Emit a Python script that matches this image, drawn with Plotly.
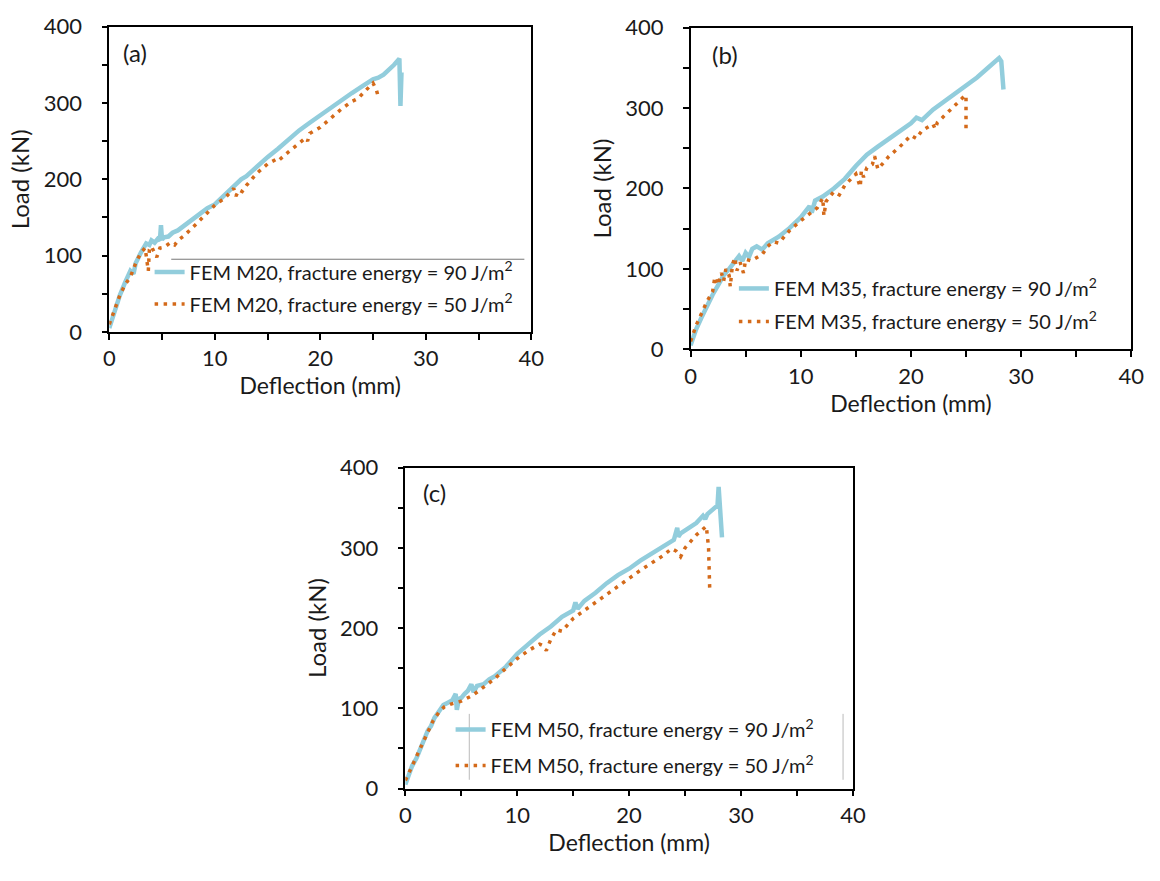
import plotly.graph_objects as go

# ---------------- data ----------------
# Panel (a) M20
a90_x = [0, 0.5, 1.0, 1.5, 2.0, 2.3, 2.5, 3.0, 3.5, 3.8, 4.0, 4.3, 4.6, 4.8, 4.9, 5.0, 5.2, 5.6, 6.0, 6.5, 7.0, 8.0, 9.0, 9.3, 10.0, 11.0, 12.0, 12.5, 13.0, 14.0, 15.0, 16.0, 17.0, 18.0, 19.0, 19.2, 20.0, 21.0, 22.0, 23.0, 24.0, 25.0, 25.5, 26.0, 27.0, 27.5, 27.6, 27.7]
a90_y = [5, 28, 48, 65, 80, 76, 90, 104, 116, 114, 120, 117, 122, 120, 140, 121, 124, 125, 130, 133, 138, 148, 158, 162, 167, 180, 193, 200, 204, 217, 229, 240, 252, 264, 274, 276, 284, 294, 304, 313, 322, 331, 333, 337, 350, 358, 296, 340]
a50_x = [0, 0.5, 1.0, 1.5, 2.0, 2.5, 3.0, 3.4, 3.6, 3.7, 3.8, 4.0, 4.3, 4.5, 4.8, 5.2, 5.8, 6.2, 6.6, 7.0, 8.0, 9.0, 10.0, 11.0, 11.8, 12.0, 12.3, 12.6, 13.0, 14.0, 15.0, 15.8, 16.0, 17.0, 18.0, 18.6, 18.8, 19.0, 20.0, 21.0, 22.0, 23.0, 23.6, 24.0, 25.0, 25.3, 25.5]
a50_y = [10, 30, 48, 62, 72, 90, 104, 110, 92, 80, 108, 112, 103, 98, 110, 111, 117, 114, 121, 125, 138, 152, 166, 176, 188, 178, 186, 184, 192, 208, 220, 226, 224, 236, 248, 254, 250, 260, 268, 280, 292, 302, 306, 312, 326, 318, 308]

# Panel (b) M35
b90_x = [0, 0.5, 1.0, 1.5, 2.0, 2.5, 3.0, 3.5, 4.0, 4.4, 4.7, 5.0, 5.3, 5.6, 6.0, 6.5, 7.0, 8.0, 9.0, 10.0, 10.8, 11.0, 11.3, 12.0, 13.0, 14.0, 15.0, 16.0, 17.0, 18.0, 19.0, 20.0, 20.5, 21.0, 22.0, 23.0, 24.0, 25.0, 26.0, 27.0, 27.5, 28.0, 28.2, 28.4]
b90_y = [5, 25, 40, 55, 68, 80, 92, 100, 108, 116, 110, 120, 115, 125, 128, 124, 132, 140, 151, 164, 178, 170, 185, 190, 200, 212, 228, 242, 252, 262, 272, 281, 288, 285, 298, 308, 318, 328, 338, 350, 356, 362, 358, 323]
b50_x = [0, 0.5, 1.0, 1.5, 2.0, 2.2, 2.5, 2.8, 3.0, 3.2, 3.5, 3.6, 3.8, 4.0, 4.2, 4.5, 4.8, 5.0, 5.5, 6.0, 6.5, 7.0, 7.5, 8.0, 8.5, 9.0, 10.0, 11.0, 11.5, 12.0, 12.1, 12.3, 13.0, 13.5, 14.0, 15.0, 15.4, 15.5, 15.7, 16.0, 16.5, 16.7, 17.0, 18.0, 19.0, 20.0, 20.5, 21.0, 22.0, 22.2, 22.4, 23.0, 24.0, 24.8, 25.0, 25.0]
b50_y = [10, 30, 45, 60, 72, 90, 80, 95, 85, 100, 92, 78, 105, 114, 98, 108, 95, 112, 110, 114, 118, 128, 134, 132, 140, 148, 160, 170, 176, 188, 166, 184, 196, 192, 204, 218, 202, 222, 214, 226, 230, 240, 224, 240, 252, 266, 262, 272, 280, 274, 282, 290, 304, 314, 316, 268]

# Panel (c) M50
c90_x = [0, 0.3, 0.6, 1.0, 1.5, 2.0, 2.3, 2.6, 3.0, 3.4, 3.8, 4.2, 4.5, 4.6, 4.8, 5.0, 5.3, 5.6, 5.9, 6.1, 6.4, 7.0, 7.5, 8.0, 9.0, 10.0, 11.0, 12.0, 13.0, 14.0, 15.0, 15.2, 15.4, 16.0, 17.0, 18.0, 19.0, 20.0, 21.0, 22.0, 23.0, 24.0, 24.3, 24.4, 24.6, 25.0, 26.0, 26.6, 26.8, 27.0, 27.5, 27.9, 28.0, 28.1, 28.3]
c90_y = [5, 18, 28, 38, 55, 72, 78, 88, 96, 104, 107, 110, 118, 98, 112, 113, 118, 122, 130, 120, 128, 130, 136, 140, 152, 168, 180, 192, 202, 214, 222, 232, 224, 234, 244, 256, 266, 274, 284, 293, 302, 310, 325, 314, 318, 322, 331, 340, 336, 342, 348, 353, 376, 350, 313]
c50_x = [0, 0.5, 1.0, 1.5, 2.0, 2.5, 3.0, 3.5, 4.0, 4.5, 5.0, 6.0, 7.0, 8.0, 9.0, 10.0, 11.0, 12.0, 12.3, 12.6, 13.0, 13.5, 14.0, 15.0, 16.0, 17.0, 18.0, 19.0, 20.0, 21.0, 22.0, 23.0, 23.8, 24.2, 24.6, 25.0, 25.5, 26.0, 26.5, 26.9, 27.1, 27.2]
c50_y = [10, 25, 40, 55, 70, 85, 95, 102, 105, 107, 109, 116, 126, 137, 150, 162, 172, 180, 178, 172, 186, 198, 196, 212, 222, 232, 243, 253, 262, 272, 281, 290, 299, 296, 289, 300, 308, 316, 322, 327, 300, 250]

labels_a = ["FEM M20, fracture energy = 90 J/m<sup>2</sup>", "FEM M20, fracture energy = 50 J/m<sup>2</sup>"]
labels_b = ["FEM M35, fracture energy = 90 J/m<sup>2</sup>", "FEM M35, fracture energy = 50 J/m<sup>2</sup>"]
labels_c = ["FEM M50, fracture energy = 90 J/m<sup>2</sup>", "FEM M50, fracture energy = 50 J/m<sup>2</sup>"]
panel_tags = ["(a)", "(b)", "(c)"]

# ---------------- style ----------------
W, H = 1160, 881
FONT = "Lato"
TXT = "#1a1a1a"
BLUE = "#92CDDC"
ORANGE = "#D46A1A"

def px(x):
    return x / W

def py(y):
    return 1 - y / H

fig = go.Figure()

panels = [
    dict(xa="x", ya="y", leg="legend", data=[(a90_x, a90_y), (a50_x, a50_y)], names=labels_a),
    dict(xa="x2", ya="y2", leg="legend2", data=[(b90_x, b90_y), (b50_x, b50_y)], names=labels_b),
    dict(xa="x3", ya="y3", leg="legend3", data=[(c90_x, c90_y), (c50_x, c50_y)], names=labels_c),
]

for p in panels:
    (x1, y1), (x2, y2) = p["data"]
    fig.add_trace(go.Scatter(x=x1, y=y1, mode="lines", name=p["names"][0],
                             xaxis=p["xa"], yaxis=p["ya"], legend=p["leg"],
                             legendgroup=p["leg"] + "g1",
                             line=dict(color=BLUE, width=4.5)))
    fig.add_trace(go.Scatter(x=x2, y=y2, mode="lines", name=p["names"][1],
                             xaxis=p["xa"], yaxis=p["ya"], legend=p["leg"],
                             legendgroup=p["leg"] + "g2",
                             line=dict(color=ORANGE, width=3.5, dash="3.5px,5.5px")))

# plot areas in pixels: (left, right, top, bottom)
boxes = [(105, 534, 13, 328), (696, 1144, 14, 346), (406, 861, 468, 799)]

def xaxis_cfg(l, r, anchor):
    return dict(domain=[px(l), px(r)], anchor=anchor, range=[0, 40], dtick=10, tick0=0,
                showgrid=False, zeroline=False, showline=True, linecolor="#000", linewidth=1.5,
                mirror=True, ticks="outside", ticklen=6, tickcolor="#000", tickwidth=1.5,
                minor=dict(dtick=5, ticks="outside", ticklen=6, tickcolor="#000", tickwidth=1.5, showgrid=False),
                tickfont=dict(family=FONT, size=22, color=TXT), ticklabelstandoff=0,
                title=dict(text="Deflection (mm)", font=dict(family=FONT, size=23, color=TXT), standoff=8))

def yaxis_cfg(t, b, anchor):
    return dict(domain=[py(b), py(t)], anchor=anchor, range=[0, 400], dtick=100, tick0=0,
                showgrid=False, zeroline=False, showline=True, linecolor="#000", linewidth=1.5,
                mirror=True, ticks="outside", ticklen=6, tickcolor="#000", tickwidth=1.5,
                minor=dict(dtick=50, ticks="outside", ticklen=6, tickcolor="#000", tickwidth=1.5, showgrid=False),
                tickfont=dict(family=FONT, size=22, color=TXT), ticklabelstandoff=15,
                title=dict(text="Load (kN)", font=dict(family=FONT, size=24, color=TXT), standoff=7))

(l, r, t, b) = boxes[0]
fig.update_layout(xaxis=xaxis_cfg(l, r, "y"), yaxis=yaxis_cfg(t, b, "x"))
(l, r, t, b) = boxes[1]
fig.update_layout(xaxis2=xaxis_cfg(l, r, "y2"), yaxis2=yaxis_cfg(t, b, "x2"))
(l, r, t, b) = boxes[2]
fig.update_layout(xaxis3=xaxis_cfg(l, r, "y3"), yaxis3=yaxis_cfg(t, b, "x3"))

def legend_cfg(xp, yp, gap):
    return dict(x=px(xp), y=py(yp), xanchor="left", yanchor="top", bgcolor="rgba(0,0,0,0)",
                font=dict(family=FONT, size=20, color=TXT), tracegroupgap=gap,
                traceorder="grouped", itemwidth=30)

fig.update_layout(legend=legend_cfg(146, 246, 3),
                  legend2=legend_cfg(740, 263, 4),
                  legend3=legend_cfg(452, 718, 7))

# panel tags
tag_pos = [(131, 40), (731, 42), (436, 494)]
for tag, (tx, ty) in zip(panel_tags, tag_pos):
    fig.add_annotation(text=tag, x=px(tx), y=py(ty), xref="paper", yref="paper",
                       showarrow=False, xanchor="center", yanchor="middle",
                       font=dict(family=FONT, size=24, color=TXT))

# legend frame fragments as in the original figure
fig.add_shape(type="line", xref="paper", yref="paper", x0=px(168), x1=px(527), y0=py(253), y1=py(253),
              line=dict(color="#777", width=1))
for lx in (471, 851):
    fig.add_shape(type="line", xref="paper", yref="paper", x0=px(lx), x1=px(lx), y0=py(722), y1=py(790),
                  line=dict(color="#bbb", width=1))

fig.update_layout(width=W, height=H, margin=dict(l=0, r=0, t=0, b=0),
                  paper_bgcolor="white", plot_bgcolor="white", showlegend=True,
                  font=dict(family=FONT, color=TXT))

fig.write_html("out.html")
